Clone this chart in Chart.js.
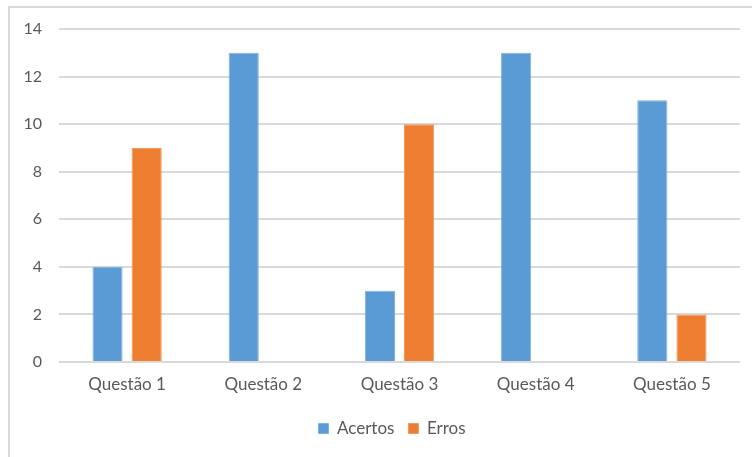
<!DOCTYPE html>
<html>
<head>
<meta charset="utf-8">
<script src="https://cdn.jsdelivr.net/npm/chart.js@4"></script>
<style>
  html, body { margin: 0; padding: 0; background: #ffffff; }
  #wrap { position: relative; width: 752px; height: 457px; }
  #frame { position: absolute; left: 8px; top: 6px; right: 0; bottom: 0;
           border-left: 2px solid #d9d9d9; border-top: 2px solid #d9d9d9; pointer-events: none; }
  canvas { position: absolute; left: 0; top: 0; }
</style>
</head>
<body>
<div id="wrap">
  <canvas id="c" width="752" height="457"></canvas>
  <div id="frame"></div>
</div>
<script>
// Respostas por questão
const categories = ['Questão 1', 'Questão 2', 'Questão 3', 'Questão 4', 'Questão 5'];
const acertos = [4, 13, 3, 13, 11];
const erros = [9, 0, 10, 0, 2];
const yTicks = [0, 2, 4, 6, 8, 10, 12, 14];

const textColor = '#595959';
const gridColor = '#d9d9d9';
const fontFamily = 'Lato, "Open Sans", sans-serif';

// Centre the legend under the plot area rather than the whole canvas
const legendUnderPlot = {
  id: 'legendUnderPlot',
  afterLayout(chart) {
    const lg = chart.legend;
    if (!lg) return;
    const shift = 22;
    lg.left += shift;
    lg.right += shift;
  }
};

new Chart(document.getElementById('c'), {
  type: 'bar',
  data: {
    labels: categories,
    datasets: [
      { label: 'Acertos', data: acertos, backgroundColor: '#5b9bd5',
        borderColor: '#7fb1de', borderWidth: 1,
        categoryPercentage: 0.575, barPercentage: 0.77 },
      { label: 'Erros', data: erros, backgroundColor: '#ed7d31',
        borderColor: '#f29a5e', borderWidth: 1,
        categoryPercentage: 0.575, barPercentage: 0.77 }
    ]
  },
  options: {
    responsive: false,
    animation: false,
    layout: { padding: { left: 0, right: 12, top: 29, bottom: 10 } },
    plugins: {
      tooltip: { enabled: false },
      legend: {
        position: 'bottom',
        labels: {
          color: textColor,
          font: { family: fontFamily, size: 17 },
          boxWidth: 10, boxHeight: 10, padding: 14
        }
      }
    },
    scales: {
      x: {
        grid: { display: false, drawTicks: false },
        border: { display: false },
        ticks: { color: textColor, font: { family: fontFamily, size: 17 }, padding: 12 },
        afterFit: (s) => { s.height = 44; }
      },
      y: {
        min: 0, max: 14,
        afterBuildTicks: (s) => { s.ticks = yTicks.map(v => ({ value: v })); },
        grid: { color: gridColor, lineWidth: 2, drawTicks: false },
        border: { display: false },
        ticks: { color: textColor, font: { family: fontFamily, size: 16 }, padding: 17 },
        afterFit: (s) => { s.width = 59; }
      }
    }
  },
  plugins: [legendUnderPlot]
});
</script>
</body>
</html>
